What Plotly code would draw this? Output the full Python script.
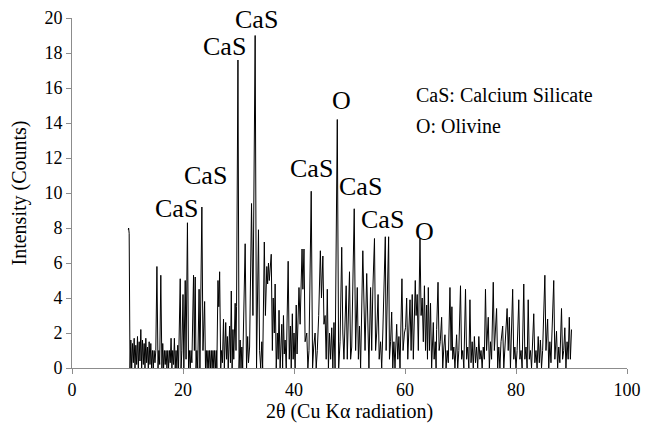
import plotly.graph_objects as go

# XRD pattern: (2-theta, intensity counts) pairs, split by angular range
scan_10_30 = [
    (10.15, 7.9), (10.2, 8.0), (10.3, 7.7), (10.45, 0), (10.6, 1.6), (10.75, 0), (10.9, 1.4),
    (11.05, 0.3), (11.2, 1.7), (11.35, 0), (11.5, 1.3), (11.65, 0.2), (11.8, 1.8), (11.95, 0),
    (12.1, 1.5), (12.25, 0.4), (12.4, 2.2), (12.55, 0), (12.7, 1.6), (12.85, 0.2), (13.0, 1.4),
    (13.15, 0), (13.3, 1.7), (13.45, 0.3), (13.6, 1.2), (13.75, 0), (13.9, 1.5), (14.05, 0.2),
    (14.2, 1.4), (14.35, 0), (14.5, 1.0), (14.65, 0), (14.8, 1.0), (14.95, 0.3), (15.1, 1.0),
    (15.3, 5.8), (15.5, 0), (15.65, 1.0), (15.8, 0.2), (16.0, 5.3), (16.2, 0), (16.35, 1.4),
    (16.5, 0), (16.65, 1.0), (16.8, 0.2), (16.95, 1.0), (17.1, 0), (17.25, 1.0), (17.4, 0),
    (17.55, 1.0), (17.7, 0.3), (17.85, 1.7), (18.0, 0), (18.15, 1.0), (18.3, 0.2), (18.45, 1.7),
    (18.6, 0), (18.75, 1.0), (18.9, 0), (19.05, 1.3), (19.2, 0), (19.5, 5.1), (19.65, 0),
    (19.8, 1.0), (20.0, 4.2), (20.15, 0), (20.4, 5.0), (20.55, 0.5), (20.8, 8.3), (21.0, 0),
    (21.15, 1.0), (21.3, 0), (21.45, 1.0), (21.6, 0.3), (21.9, 5.3), (22.05, 1.0), (22.2, 5.2),
    (22.35, 0), (22.5, 1.0), (22.65, 0), (22.9, 4.5), (23.05, 0), (23.4, 9.2), (23.6, 1.0),
    (23.9, 3.8), (24.05, 0), (24.2, 1.0), (24.35, 0), (24.5, 1.0), (24.65, 0), (24.8, 1.0),
    (24.95, 0), (25.1, 1.0), (25.25, 0), (25.4, 1.0), (25.55, 0), (25.7, 1.0), (25.85, 0),
    (26.0, 1.0), (26.1, 0), (26.3, 5.0), (26.45, 3.5), (26.6, 5.5), (26.8, 0), (26.95, 1.0),
    (27.1, 0.3), (27.3, 2.8), (27.45, 0), (27.7, 2.6), (27.85, 0.5), (28.0, 1.8), (28.15, 0),
    (28.4, 2.4), (28.55, 0.3), (28.7, 4.4), (28.85, 0), (29.0, 2.2), (29.15, 0.5), (29.4, 3.7),
    (29.55, 1.0), (29.65, 3.5), (29.9, 17.6),
]
scan_30_50 = [
    (30.1, 0), (30.3, 1.6), (30.45, 0), (30.6, 1.2), (30.75, 0), (31.2, 7.1), (31.45, 0),
    (31.65, 1.8), (31.8, 0.3), (32.0, 1.2), (32.35, 9.4), (32.6, 3.0), (33.0, 19.0), (33.25, 0),
    (33.6, 7.9), (33.8, 1.0), (34.0, 0), (34.2, 1.5), (34.35, 0), (34.65, 7.2), (34.85, 3.0),
    (35.1, 5.8), (35.25, 4.8), (35.4, 6.0), (35.55, 5.0), (35.7, 5.8), (35.9, 6.5), (36.1, 1.0),
    (36.25, 4.0), (36.45, 2.0), (36.6, 4.8), (36.8, 0), (37.0, 2.0), (37.15, 0.5), (37.3, 3.3),
    (37.5, 0), (37.8, 2.5), (37.95, 0), (38.1, 3.0), (38.25, 0.8), (38.4, 1.6), (38.6, 0),
    (38.95, 6.1), (39.15, 0.5), (39.35, 2.4), (39.5, 0), (39.7, 3.1), (39.85, 0.5), (40.0, 2.0),
    (40.2, 0), (40.4, 3.6), (40.55, 0.8), (40.9, 4.6), (41.1, 2.5), (41.45, 6.8), (41.6, 4.5),
    (41.8, 6.8), (42.0, 1.5), (42.3, 2.0), (42.5, 0), (42.7, 1.0), (43.1, 10.1), (43.35, 0),
    (43.55, 1.2), (43.8, 2.0), (44.0, 0), (44.2, 1.0), (44.45, 3.0), (44.75, 6.7), (44.95, 4.0),
    (45.2, 6.4), (45.4, 2.5), (45.6, 3.0), (45.8, 0.5), (46.0, 4.5), (46.2, 0), (46.4, 2.0),
    (46.6, 0.5), (46.8, 2.3), (47.0, 0), (47.2, 2.6), (47.4, 0), (47.8, 14.2), (48.05, 0),
    (48.3, 1.5), (48.6, 6.9), (48.8, 2.0), (49.0, 0.5), (49.4, 4.7), (49.6, 0.5), (50.0, 5.5),
]
scan_50_70 = [
    (50.2, 0.5), (50.4, 1.2), (50.85, 9.1), (51.1, 1.0), (51.4, 4.6), (51.6, 0.5), (51.8, 2.4),
    (52.0, 0), (52.4, 6.7), (52.6, 3.0), (52.8, 1.0), (53.1, 5.4), (53.3, 1.5), (53.5, 0),
    (53.8, 4.6), (54.0, 1.0), (54.2, 4.4), (54.5, 7.4), (54.7, 1.0), (54.9, 2.0), (55.15, 4.2),
    (55.35, 0.5), (55.6, 1.5), (55.8, 0), (56.0, 2.0), (56.45, 7.5), (56.6, 1.0), (57.05, 7.5),
    (57.2, 0.5), (57.4, 1.5), (57.6, 3.2), (57.8, 0), (58.0, 1.5), (58.2, 0), (58.5, 2.5),
    (58.7, 0.5), (58.9, 1.8), (59.1, 0), (59.45, 5.1), (59.65, 1.0), (59.9, 2.0), (60.1, 2.3),
    (60.3, 4.0), (60.5, 0.5), (60.9, 3.9), (61.1, 1.0), (61.3, 4.2), (61.5, 0.5), (61.85, 5.0),
    (62.0, 3.0), (62.2, 4.2), (62.4, 1.0), (62.7, 7.4), (62.9, 3.0), (63.1, 4.0), (63.3, 1.5),
    (63.5, 4.7), (63.7, 1.0), (63.9, 3.6), (64.05, 0.5), (64.2, 4.6), (64.4, 1.0), (64.6, 3.7),
    (64.8, 0), (65.1, 2.6), (65.25, 0.5), (65.45, 1.5), (65.6, 0), (65.7, 2.2), (65.95, 4.9),
    (66.15, 1.0), (66.35, 1.5), (66.6, 2.9), (66.8, 0), (67.0, 1.2), (67.2, 1.9), (67.4, 0),
    (67.6, 1.0), (67.8, 0.3), (68.1, 4.6), (68.3, 1.0), (68.45, 3.5), (68.6, 0.5), (68.8, 1.2),
    (69.0, 0), (69.3, 1.9), (69.5, 0), (69.7, 1.0), (70.0, 4.7),
]
scan_70_90 = [
    (70.2, 0.5), (70.4, 1.0), (70.6, 0), (70.9, 4.5), (71.1, 0.5), (71.3, 1.2), (71.5, 0),
    (71.7, 3.9), (71.9, 0.3), (72.1, 1.5), (72.3, 0), (72.5, 1.8), (72.7, 0.3), (72.9, 1.2),
    (73.1, 0), (73.3, 1.8), (73.5, 0.5), (73.7, 1.0), (73.9, 0), (74.1, 1.2), (74.3, 0.5),
    (74.5, 4.5), (74.7, 1.0), (75.0, 2.9), (75.2, 0), (75.4, 1.5), (75.6, 0.5), (75.9, 4.9),
    (76.1, 1.0), (76.5, 3.4), (76.7, 0), (76.9, 1.2), (77.1, 0), (77.3, 1.5), (77.6, 2.4),
    (77.8, 0), (78.0, 1.0), (78.4, 3.4), (78.6, 1.0), (78.8, 2.9), (79.0, 0), (79.4, 4.5),
    (79.6, 0.5), (79.8, 1.2), (80.0, 0), (80.2, 1.0), (80.5, 3.9), (80.7, 0.5), (80.9, 1.0),
    (81.1, 0), (81.4, 4.8), (81.6, 0.5), (81.8, 1.2), (82.0, 0), (82.2, 3.9), (82.4, 0.5),
    (82.6, 1.0), (82.8, 0), (83.2, 3.1), (83.4, 0.3), (83.6, 1.0), (83.8, 0), (84.0, 1.8),
    (84.2, 0.3), (84.4, 1.6), (84.6, 0), (84.8, 1.0), (85.2, 5.3), (85.4, 1.0), (85.7, 2.8),
    (85.9, 0), (86.1, 1.5), (86.3, 0.3), (86.8, 5.0), (87.0, 0.5), (87.3, 2.1), (87.5, 0),
    (87.7, 1.2), (87.9, 0.3), (88.2, 3.4), (88.4, 0.5), (88.6, 1.0), (88.8, 2.3), (89.0, 0),
    (89.2, 1.5), (89.4, 0.5), (89.6, 2.9), (89.8, 0.5), (90.0, 2.2),
]

# Phase labels placed above identified reflections
phase_labels = ["CaS", "CaS", "CaS", "CaS", "CaS", "O", "CaS", "CaS", "O"]
label_theta = [18.8, 24.1, 27.4, 33.3, 43.2, 48.6, 51.9, 56.0, 63.6]
label_counts = [9.1, 11.0, 18.4, 19.9, 11.4, 15.3, 10.4, 8.5, 7.8]

legend_lines = ["CaS: Calcium Silicate", "O: Olivine"]

points = scan_10_30 + scan_30_50 + scan_50_70 + scan_70_90
theta = [p[0] for p in points]
counts = [p[1] for p in points]

SERIF = "Times New Roman"
AXIS_GREY = "#8c8c8c"

fig = go.Figure()
fig.add_trace(go.Scatter(
    x=theta, y=counts, mode="lines",
    line=dict(color="#000000", width=1),
    showlegend=False, hoverinfo="skip",
))

for txt, xv, yv in zip(phase_labels, label_theta, label_counts):
    fig.add_annotation(x=xv, y=yv, xref="x", yref="y", text=txt, showarrow=False,
                       xanchor="center", yanchor="middle",
                       font=dict(family=SERIF, size=26))

for i, line in enumerate(legend_lines):
    fig.add_annotation(x=61.6, y=15.6 - i * 1.75, xref="x", yref="y", text=line,
                       showarrow=False, xanchor="left", yanchor="middle",
                       font=dict(family=SERIF, size=20))

fig.update_layout(
    width=646, height=430,
    margin=dict(l=72, r=19, t=18, b=62, autoexpand=False),
    paper_bgcolor="white", plot_bgcolor="white",
    font=dict(family=SERIF, size=18, color="#000000"),
    xaxis=dict(
        range=[0, 100], dtick=20, automargin=True,
        showline=True, linecolor=AXIS_GREY,
        ticks="outside", ticklen=5, tickcolor=AXIS_GREY,
        showgrid=False, zeroline=False,
        title=dict(text="2θ (Cu Kα radiation)", font=dict(family=SERIF, size=20), standoff=4),
    ),
    yaxis=dict(
        range=[0, 20], dtick=2, automargin=True,
        showline=True, linecolor=AXIS_GREY,
        ticks="outside", ticklen=5, tickcolor=AXIS_GREY,
        showgrid=False, zeroline=False,
        title=dict(text="Intensity (Counts)", font=dict(family=SERIF, size=20), standoff=12),
    ),
)

fig.write_html("out.html")
